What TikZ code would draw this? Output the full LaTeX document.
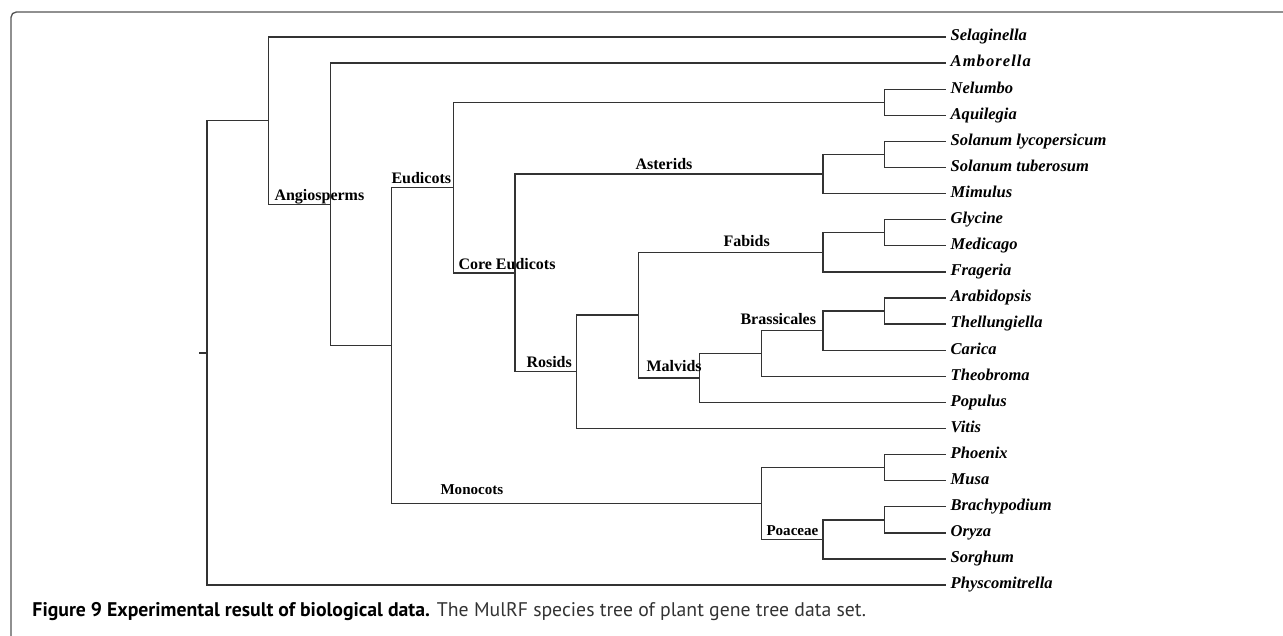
\documentclass[tikz,border=0pt]{standalone}
\usepackage{fontspec}
\setmainfont{Liberation Serif}
\newfontfamily\capfont{PT Sans}

\tikzset{every picture/.style={line width=0.75pt}}

\begin{document}
\begin{tikzpicture}[x=0.75pt,y=0.75pt,yscale=-1,xscale=1,
  branch/.style={draw={rgb, 255:red, 51; green, 51; blue, 51 }, line width=1pt},
  leaf/.style={anchor=west, inner xsep=3pt, inner ysep=0pt, text height=8.5pt, text depth=2.7pt,
    font=\fontsize{12.4}{14}\selectfont\bfseries\itshape},
  clade/.style={anchor=base west, inner sep=0pt, font=\fontsize{12}{14}\selectfont\bfseries}]
	%set diagram size 1283 x 636
	\path [use as bounding box] (0,0) rectangle (1283,636);
	\clip (0,0) rectangle (1283,636);

	%Shape: Frame
	\draw [draw={rgb, 255:red, 85; green, 85; blue, 85 }, line width=1pt, rounded corners=4pt] (11,12) rectangle (1300,660);

	% Tips
	\node [leaf] (selaginella) at (946.2,37) {Selaginella};
	\node [leaf] (amborella) at (946.2,63.1) {A\kern0.8pt m\kern0.8pt b\kern0.8pt o\kern0.8pt r\kern0.8pt e\kern0.8pt l\kern0.8pt l\kern0.8pt a};
	\node [leaf] (nelumbo) at (946.2,89.2) {Nelumbo};
	\node [leaf] (aquilegia) at (946.2,115.3) {Aquilegia};
	\node [leaf] (solanumlyc) at (946.2,141.4) {Solanum lycopersicum};
	\node [leaf] (solanumtub) at (946.2,167.5) {Solanum tuberosum};
	\node [leaf] (mimulus) at (946.2,193.6) {Mimulus};
	\node [leaf] (glycine) at (946.2,219.7) {Glycine};
	\node [leaf] (medicago) at (946.2,245.8) {Medicago};
	\node [leaf] (frageria) at (946.2,271.9) {Frageria};
	\node [leaf] (arabidopsis) at (946.2,298) {Arabidopsis};
	\node [leaf] (thellungiella) at (946.2,324.1) {Thellungiella};
	\node [leaf] (carica) at (946.2,350.2) {Carica};
	\node [leaf] (theobroma) at (946.2,376.3) {Theobroma};
	\node [leaf] (populus) at (946.2,402.4) {Populus};
	\node [leaf] (vitis) at (946.2,428.5) {Vitis};
	\node [leaf] (phoenix) at (946.2,454.6) {Phoenix};
	\node [leaf] (musa) at (946.2,480.7) {Musa};
	\node [leaf] (brachypodium) at (946.2,506.8) {Brachypodium};
	\node [leaf] (oryza) at (946.2,532.9) {Oryza};
	\node [leaf] (sorghum) at (946.2,559) {Sorghum};
	\node [leaf] (physcomitrella) at (946.2,585.1) {Physcomitrella};

	% Inner nodes
	\coordinate (stub) at (199,352.9);
	\coordinate (root) at (207,352.9);
	\coordinate (seed) at (268.6,120.7);
	\coordinate (angiosperms) at (330.2,204.3);
	\coordinate (eumono) at (391.8,345.6);
	\coordinate (eudicots) at (453.4,187.6);
	\coordinate (nelaqu) at (884.6,102.25);
	\coordinate (core) at (515,272.9);
	\coordinate (asterids) at (823,174);
	\coordinate (solanum) at (884.6,154.45);
	\coordinate (rosids) at (576.6,371.8);
	\coordinate (fabmal) at (638.2,315.1);
	\coordinate (fabids) at (823,252.3);
	\coordinate (glymed) at (884.6,232.75);
	\coordinate (malvids) at (699.8,377.9);
	\coordinate (brathe) at (761.4,353.5);
	\coordinate (brassicales) at (823,330.6);
	\coordinate (arathe) at (884.6,311.05);
	\coordinate (monocots) at (761.4,503.5);
	\coordinate (phomus) at (884.6,467.65);
	\coordinate (poaceae) at (823,539.4);
	\coordinate (braory) at (884.6,519.85);

	% Branches
	\draw [branch] (stub) -- (root);
	\draw [branch] (root) |- (seed);
	\draw [branch] (root) |- (physcomitrella.west);
	\draw [branch] (seed) |- (selaginella.west);
	\draw [branch] (seed) |- (angiosperms);
	\draw [branch] (angiosperms) |- (amborella.west);
	\draw [branch] (angiosperms) |- (eumono);
	\draw [branch] (eumono) |- (eudicots);
	\draw [branch] (eumono) |- (monocots);
	\draw [branch] (eudicots) |- (nelaqu);
	\draw [branch] (eudicots) |- (core);
	\draw [branch] (nelaqu) |- (nelumbo.west);
	\draw [branch] (nelaqu) |- (aquilegia.west);
	\draw [branch] (core) |- (asterids);
	\draw [branch] (core) |- (rosids);
	\draw [branch] (asterids) |- (solanum);
	\draw [branch] (asterids) |- (mimulus.west);
	\draw [branch] (solanum) |- (solanumlyc.west);
	\draw [branch] (solanum) |- (solanumtub.west);
	\draw [branch] (rosids) |- (fabmal);
	\draw [branch] (rosids) |- (vitis.west);
	\draw [branch] (fabmal) |- (fabids);
	\draw [branch] (fabmal) |- (malvids);
	\draw [branch] (fabids) |- (glymed);
	\draw [branch] (fabids) |- (frageria.west);
	\draw [branch] (glymed) |- (glycine.west);
	\draw [branch] (glymed) |- (medicago.west);
	\draw [branch] (malvids) |- (brathe);
	\draw [branch] (malvids) |- (populus.west);
	\draw [branch] (brathe) |- (brassicales);
	\draw [branch] (brathe) |- (theobroma.west);
	\draw [branch] (brassicales) |- (arathe);
	\draw [branch] (brassicales) |- (carica.west);
	\draw [branch] (arathe) |- (arabidopsis.west);
	\draw [branch] (arathe) |- (thellungiella.west);
	\draw [branch] (monocots) |- (phomus);
	\draw [branch] (monocots) |- (poaceae);
	\draw [branch] (phomus) |- (phoenix.west);
	\draw [branch] (phomus) |- (musa.west);
	\draw [branch] (poaceae) |- (braory);
	\draw [branch] (poaceae) |- (sorghum.west);
	\draw [branch] (braory) |- (brachypodium.west);
	\draw [branch] (braory) |- (oryza.west);

	% Clade labels
	\node [clade] (lbl-angiosperms) at (274,200) {Angiosperms};
	\node [clade] (lbl-eudicots) at (391,183) {Eudicots};
	\node [clade] (lbl-asterids) at (635,169.5) {Asterids};
	\node [clade] (lbl-core) at (458,269) {Core Eudicots};
	\node [clade] (lbl-fabids) at (723,246.7) {Fabids};
	\node [clade] (lbl-brassicales) at (740,324.7) {Brassicales};
	\node [clade] (lbl-rosids) at (526,367.3) {Rosids};
	\node [clade] (lbl-malvids) at (646,371.7) {Malvids};
	\node [clade, font=\fontsize{11.3}{13}\selectfont\bfseries] (lbl-monocots) at (440,494.3) {Monocots};
	\node [clade, font=\fontsize{11.3}{13}\selectfont\bfseries] (lbl-poaceae) at (766,535) {Poaceae};

	% Caption
	\node [anchor=base west, inner sep=0pt, font=\capfont\fontsize{14.8}{17}\selectfont] (caption) at (32,616)
	  {\textbf{Figure 9 Experimental result of biological data.} {\color[rgb]{0.2,0.2,0.2}The MulRF species tree of plant gene tree data set.}};

\end{tikzpicture}
\end{document}
